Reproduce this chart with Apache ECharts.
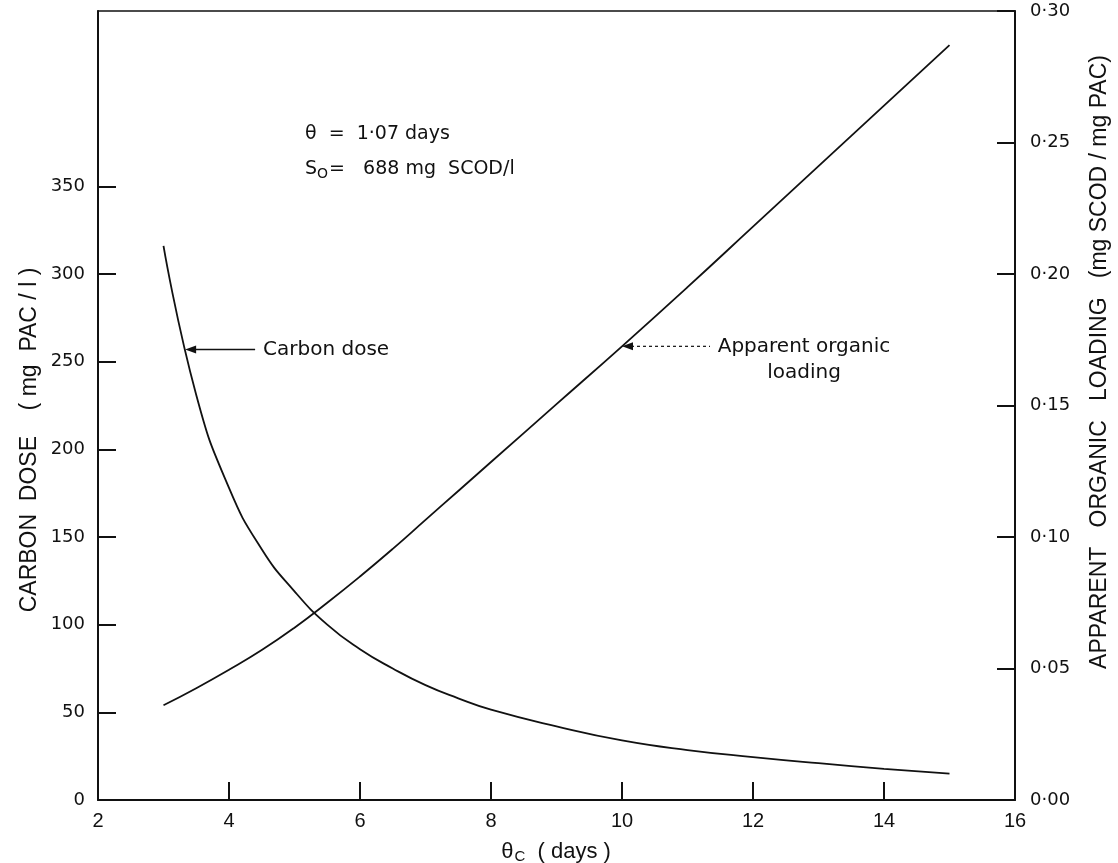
<!DOCTYPE html>
<html>
<head>
<meta charset="utf-8">
<script src="https://cdn.jsdelivr.net/npm/echarts@6/dist/echarts.min.js"></script>
<style>
html,body{margin:0;padding:0;background:#fff;}
#chart{width:1118px;height:863px;}
</style>
</head>
<body>
<div id="chart"></div>
<script>
// ---- data ----
const xCarbon = [3, 3.5, 4, 4.5, 5, 5.5, 6, 6.5, 7, 7.5, 8, 9, 10, 11, 12, 13, 14, 15];
const carbonDose = [316, 231, 178, 143, 119, 100, 86, 75, 65.5, 58, 51.5, 42, 34, 28.5, 24.5, 21, 17.8, 15];
const xLoading = [3, 3.5, 4, 4.5, 5, 5.5, 6, 6.5, 7, 7.5, 8, 9, 10, 11, 12, 13, 14, 15];
const organicLoading = [0.036, 0.0425, 0.0495, 0.057, 0.0655, 0.075, 0.085, 0.0955, 0.1065, 0.1175, 0.1285, 0.1505, 0.1725, 0.195, 0.218, 0.241, 0.264, 0.287];
const xTicks = [2, 4, 6, 8, 10, 12, 14, 16];
const leftTicks = [0, 50, 100, 150, 200, 250, 300, 350];
const rightTicks = [0, 0.05, 0.10, 0.15, 0.20, 0.25, 0.30];

const chart = echarts.init(document.getElementById('chart'), null, {renderer: 'canvas'});
const BLACK = '#111';
const labelFont = 'DejaVu Sans';
const titleFont = 'Liberation Sans';

const carbonData = xCarbon.map((x, i) => [x, carbonDose[i]]);
const loadingData = xLoading.map((x, i) => [x, organicLoading[i]]);

chart.setOption({
  backgroundColor: '#fff',
  animation: false,
  grid: {left: 98, right: 103, top: 11, bottom: 63, containLabel: false},
  xAxis: [{
    type: 'value', min: 2, max: 16, interval: 2, position: 'bottom',
    axisLine: {show: true, lineStyle: {color: BLACK, width: 2}},
    axisTick: {show: true, inside: true, length: 18, lineStyle: {color: BLACK, width: 2}},
    axisLabel: {color: BLACK, fontFamily: titleFont, fontSize: 20, margin: 11,
      customValues: xTicks},
    splitLine: {show: false}
  }, {
    type: 'value', min: 2, max: 16, position: 'top',
    axisLine: {show: true, onZero: false, lineStyle: {color: BLACK, width: 1.5}},
    axisTick: {show: false}, axisLabel: {show: false}, splitLine: {show: false}
  }],
  yAxis: [{
    type: 'value', min: 0, max: 450, interval: 50, position: 'left',
    axisLine: {show: true, onZero: false, lineStyle: {color: BLACK, width: 2}},
    axisTick: {show: true, inside: true, length: 18, lineStyle: {color: BLACK, width: 2},
      customValues: leftTicks},
    axisLabel: {color: BLACK, fontFamily: labelFont, fontSize: 18, margin: 13,
      customValues: leftTicks},
    splitLine: {show: false}
  }, {
    type: 'value', min: 0, max: 0.30, interval: 0.05, position: 'right',
    axisLine: {show: true, onZero: false, lineStyle: {color: BLACK, width: 2}},
    axisTick: {show: true, inside: true, length: 18, lineStyle: {color: BLACK, width: 2},
      customValues: rightTicks},
    axisLabel: {color: BLACK, fontFamily: labelFont, fontSize: 18, margin: 15,
      customValues: rightTicks,
      formatter: v => v.toFixed(2).replace('.', '·')},
    splitLine: {show: false}
  }],
  series: [{
    name: 'Carbon dose', type: 'line', xAxisIndex: 0, yAxisIndex: 0,
    data: carbonData, smooth: 0.5, showSymbol: false,
    lineStyle: {color: BLACK, width: 1.8}
  }, {
    name: 'Apparent organic loading', type: 'line', xAxisIndex: 0, yAxisIndex: 1,
    data: loadingData, smooth: 0.5, showSymbol: false,
    lineStyle: {color: BLACK, width: 1.8}
  }]
});

// ---- annotations ----
const cTip = chart.convertToPixel({xAxisIndex: 0, yAxisIndex: 0}, [3.33, 257]);
const lTip = chart.convertToPixel({xAxisIndex: 0, yAxisIndex: 1}, [10, 0.1725]);

function arrowHead(tip) {
  return {type: 'polygon', shape: {points: [[tip[0], tip[1]], [tip[0] + 11, tip[1] - 4], [tip[0] + 11, tip[1] + 4]]},
    style: {fill: BLACK}};
}

chart.setOption({
  graphic: [
    arrowHead(cTip),
    {type: 'line', shape: {x1: cTip[0] + 9, y1: cTip[1], x2: cTip[0] + 70, y2: cTip[1]},
      style: {stroke: BLACK, lineWidth: 1.5}},
    {type: 'text', x: cTip[0] + 78, y: cTip[1],
      style: {text: 'Carbon dose', fill: BLACK, font: '20px "DejaVu Sans"', verticalAlign: 'middle'}},
    arrowHead(lTip),
    {type: 'line', shape: {x1: lTip[0] + 9, y1: lTip[1], x2: lTip[0] + 88, y2: lTip[1]},
      style: {stroke: BLACK, lineWidth: 1.2, lineDash: [3, 3]}},
    {type: 'text', x: 804, y: lTip[1] - 13,
      style: {text: 'Apparent organic\nloading', fill: BLACK, font: '20px "DejaVu Sans"',
        textAlign: 'center', verticalAlign: 'top', lineHeight: 26}},
    {type: 'text', x: 305, y: 134,
      style: {text: 'θ  =  1·07 days', fill: BLACK, font: '19px "DejaVu Sans"', verticalAlign: 'middle'}},
    {type: 'text', x: 305, y: 169,
      style: {text: '{m|S}{s|O}{m|=   688 mg  SCOD/l}', verticalAlign: 'middle',
        rich: {m: {fill: BLACK, font: '19px "DejaVu Sans"'},
               s: {fill: BLACK, font: '14px "DejaVu Sans"', padding: [10, 1, 0, 0]}}}},
    {type: 'text', x: 30, y: 440, rotation: Math.PI / 2,
      style: {text: 'CARBON  DOSE    ( mg  PAC / l )', fill: BLACK, font: '23px "Liberation Sans"',
        textAlign: 'center', verticalAlign: 'middle'}},
    {type: 'text', x: 1100, y: 362, rotation: Math.PI / 2,
      style: {text: 'APPARENT   ORGANIC   LOADING   (mg SCOD / mg PAC)', fill: BLACK,
        font: '23px "Liberation Sans"', textAlign: 'center', verticalAlign: 'middle'}},
    {type: 'text', x: 556, y: 852,
      style: {text: '{m|θ}{s|C}{m|  ( days )}', textAlign: 'center', verticalAlign: 'middle',
        rich: {m: {fill: BLACK, font: '22px "Liberation Sans"'},
               s: {fill: BLACK, font: '15px "Liberation Sans"', padding: [10, 0, 0, 1]}}}}
  ]
});
</script>
</body>
</html>
